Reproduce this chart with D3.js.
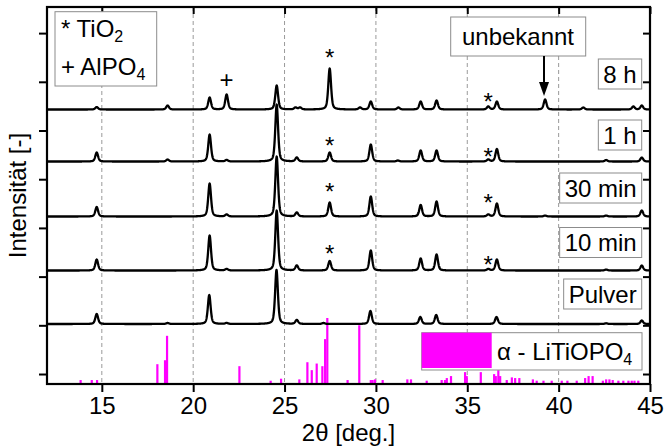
<!DOCTYPE html>
<html><head><meta charset="utf-8">
<script src="https://cdn.jsdelivr.net/npm/d3@7/dist/d3.min.js"></script>
<style>
body{margin:0;background:#fff}
text{font-family:"Liberation Sans",Arial,Helvetica,sans-serif;fill:#000}
</style>
</head><body>
<svg id="chart" width="667" height="448"></svg>
<script>
// ---------------- data ----------------
const xTicks = [15, 20, 25, 30, 35, 40, 45];
const gridX = [15, 20, 25, 30, 35, 40];
const yTicks = [0, 1000, 2000, 3000, 4000, 5000, 6000, 7000];

const seriesNames = ["Pulver", "10 min", "30 min", "1 h", "8 h"];
const seriesOffsets = [1027, 2125, 3234, 4363, 5431];

// [2θ, peak height]
const peaksPulver = [[14.72,205],[18.6,20],[20.88,595],[21.83,20],[24.56,1110],[25.67,82],[27.13,20],[29.70,267],[32.43,144],[33.30,185],[36.60,144],[42.6,15],[44.55,72]];
const peaks10min = [[14.72,226],[20.9,719],[21.83,31],[24.57,1232],[25.67,103],[27.47,195],[29.72,411],[32.45,246],[33.32,328],[36.15,31],[36.62,226],[42.6,20],[44.55,103]];
const peaks30min = [[14.72,195],[20.9,677],[21.83,41],[24.57,1232],[25.67,82],[27.47,287],[29.72,411],[32.45,236],[33.32,308],[36.15,41],[36.62,267],[39.26,20],[42.6,20],[44.55,123]];
const peaks1h = [[14.72,185],[18.6,41],[20.9,554],[21.83,31],[24.57,1170],[25.67,82],[27.47,185],[29.72,349],[31.2,20],[32.45,226],[33.32,226],[36.15,41],[36.62,257],[42.6,31],[44.55,82]];
const peaks8h = [[14.72,51],[18.6,82],[20.9,246],[21.83,308],[24.57,493],[25.6,41],[25.85,41],[27.47,842],[29.13,41],[29.72,164],[31.23,41],[32.45,164],[33.32,185],[36.15,62],[36.62,164],[39.26,205],[41.35,41],[44.09,62],[44.55,82]];
const seriesPeaks = [peaksPulver, peaks10min, peaks30min, peaks1h, peaks8h];

// phase markers: [symbol, 2θ, intensity at symbol centre]
const markerSymbols = ["+", "*", "*", "*", "*", "*", "*", "*", "*"];
const markerPos =     [21.83, 27.47, 36.15, 27.47, 36.15, 27.47, 36.15, 27.47, 36.15];
const markerY =       [6057, 6612, 5694, 4805, 4579, 3846, 3620, 2581, 2355];

// reference pattern α-LiTiOPO4: 2θ and relative intensity (%)
const refPos = [13.84,14.45,14.74,18.04,18.46,18.57,22.53,24.24,24.81,25.81,26.25,26.49,26.76,27.07,27.22,27.34,28.45,29.09,29.72,29.82,29.95,30.37,31.72,31.92,32.78,33.60,33.78,33.88,34.11,34.88,34.97,35.74,36.47,36.56,36.70,36.80,37.16,37.44,37.62,37.85,38.59,38.80,39.17,39.62,40.17,40.48,40.99,41.45,41.64,41.86,42.42,42.60,42.78,42.96,43.27,43.54,43.82,44.00,44.15,44.36];
const refInt = [6,6,6,30,36,73,27,5,8,7,33,21,31,27,68,100,6,89,6,6,7,6,7,7,5,6,6,9,12,18,12,18,15,12,21,12,6,10,9,9,7,5,5,5,5,5,5,9,12,12,5,7,7,6,5,5,5,5,5,5];

// ---------------- drawing ----------------
const svg = d3.select("#chart");
const L = 47, R = 650, T = 7, B = 384;
const FS = 24;

const x = d3.scaleLinear().domain([12, 45]).range([L, R]);
const y = d3.scaleLinear().domain([-205, 7536]).range([B, T]);
const yRef = d3.scaleLinear().domain([0, 100]).range([B, B - 66]);

// grid
svg.append("g").selectAll("line").data(gridX).join("line")
  .attr("x1", d => x(d)).attr("x2", d => x(d))
  .attr("y1", T).attr("y2", B)
  .attr("stroke", "#9a9a9a").attr("stroke-width", 1)
  .attr("stroke-dasharray", "4,3");

// reference bars
svg.append("g").selectAll("rect").data(refPos).join("rect")
  .attr("x", d => x(d) - 1.1).attr("width", 2.2)
  .attr("y", (d, i) => yRef(refInt[i]))
  .attr("height", (d, i) => B - yRef(refInt[i]))
  .attr("fill", "#ff00ff");

// curves
const fwhm = 0.18, eta = 0.45;
const gam = fwhm / 2;
function profile(peaks, t) {
  let s = 0;
  for (const [p, h] of peaks) {
    const u = (t - p) / gam;
    s += h * (eta / (1 + u * u) + (1 - eta) * Math.exp(-Math.LN2 * u * u));
  }
  return s;
}
const grid = d3.range(12.0, 45.0001, 0.01);
const line = d3.line().x(d => x(d[0])).y(d => y(d[1]));
svg.append("defs").append("clipPath").attr("id", "clip")
  .append("rect").attr("x", L).attr("y", T).attr("width", R - L).attr("height", B - T);
const cg = svg.append("g").attr("clip-path", "url(#clip)");
seriesPeaks.forEach((pk, i) => {
  const pts = grid.map(t => [t, seriesOffsets[i] + profile(pk, t)]);
  cg.append("path").attr("d", line(pts))
    .attr("fill", "none").attr("stroke", "#000").attr("stroke-width", 2.3)
    .attr("stroke-linejoin", "round");
});

// markers
svg.append("g").selectAll("text").data(markerSymbols).join("text")
  .attr("x", (d, i) => x(markerPos[i]))
  .attr("y", (d, i) => y(markerY[i]) + (d === "*" ? 0.57 * FS : 0.36 * FS))
  .attr("text-anchor", "middle").attr("font-size", FS).text(d => d);

// axes
const xAxis = d3.axisBottom(x).tickValues(xTicks).tickSize(8).tickPadding(5).tickFormat(d3.format("d"));
const gx = svg.append("g").attr("transform", `translate(0,${B})`).call(xAxis);
gx.select(".domain").remove();
gx.selectAll(".tick line").attr("stroke", "#000").attr("stroke-width", 2);
gx.selectAll(".tick text").attr("font-size", FS).attr("font-family", "Liberation Sans, Arial, sans-serif");

const xTop = d3.axisTop(x).tickValues(xTicks).tickSize(-7).tickFormat("");
const gxt = svg.append("g").attr("transform", `translate(0,${T})`).call(xTop);
gxt.select(".domain").remove();
gxt.selectAll(".tick line").attr("stroke", "#000").attr("stroke-width", 2);

const yAxis = d3.axisLeft(y).tickValues(yTicks).tickSize(8).tickFormat("");
const gy = svg.append("g").attr("transform", `translate(${L},0)`).call(yAxis);
gy.select(".domain").remove();
gy.selectAll(".tick line").attr("stroke", "#000").attr("stroke-width", 2);

const yRight = d3.axisRight(y).tickValues(yTicks).tickSize(-7).tickFormat("");
const gyr = svg.append("g").attr("transform", `translate(${R},0)`).call(yRight);
gyr.select(".domain").remove();
gyr.selectAll(".tick line").attr("stroke", "#000").attr("stroke-width", 2);

// frame
svg.append("rect").attr("x", L).attr("y", T).attr("width", R - L).attr("height", B - T)
  .attr("fill", "none").attr("stroke", "#000").attr("stroke-width", 2.2);

// axis titles
svg.append("text").attr("x", (L + R) / 2).attr("y", 441).attr("text-anchor", "middle")
  .attr("font-size", FS).text("2θ [deg.]");
svg.append("text").attr("transform", `translate(26,${(T + B) / 2}) rotate(-90)`)
  .attr("text-anchor", "middle").attr("font-size", FS).text("Intensität [-]");

// sample labels (boxes at right)
const labelCenters = [294, 242.5, 188, 135, 74];
const boxRight = 641.7;
seriesNames.forEach((name, i) => {
  const g = svg.append("g");
  const t = g.append("text").attr("x", boxRight - 5).attr("y", labelCenters[i] + 0.36 * FS)
    .attr("text-anchor", "end").attr("font-size", FS).text(name);
  const bb = t.node().getBBox();
  g.insert("rect", "text").attr("x", bb.x - 5).attr("y", labelCenters[i] - 15)
    .attr("width", bb.width + 10).attr("height", 30)
    .attr("fill", "#fff").attr("stroke", "#8c8c8c").attr("stroke-width", 1);
});

// "unbekannt" box + arrow
const ug = svg.append("g");
ug.append("rect").attr("x", 450.7).attr("y", 17).attr("width", 135).attr("height", 39)
  .attr("fill", "#fff").attr("stroke", "#8c8c8c").attr("stroke-width", 1);
ug.append("text").attr("x", 518).attr("y", 45).attr("text-anchor", "middle")
  .attr("font-size", FS).text("unbekannt");
const ax = x(39.2);
ug.append("line").attr("x1", ax).attr("x2", ax).attr("y1", 56).attr("y2", 84)
  .attr("stroke", "#000").attr("stroke-width", 2);
ug.append("path").attr("d", `M${ax - 5},${82} L${ax + 5},${82} L${ax},${96} Z`).attr("fill", "#000");

// phase legend (top left)
const lg = svg.append("g");
lg.append("rect").attr("x", 55).attr("y", 11.7).attr("width", 101.7).attr("height", 74.3)
  .attr("fill", "#fff").attr("stroke", "#8c8c8c").attr("stroke-width", 1);
const t1 = lg.append("text").attr("x", 61).attr("y", 37).attr("font-size", FS);
t1.append("tspan").text("* TiO");
t1.append("tspan").attr("font-size", 16).attr("dy", 5).text("2");
const t2 = lg.append("text").attr("x", 61).attr("y", 75).attr("font-size", FS);
t2.append("tspan").text("+ AlPO");
t2.append("tspan").attr("font-size", 16).attr("dy", 5).text("4");

// reference legend
const rg = svg.append("g");
rg.append("rect").attr("x", 421.7).attr("y", 332.7).attr("width", 220.3).attr("height", 37.3)
  .attr("fill", "#fff").attr("stroke", "#8c8c8c").attr("stroke-width", 1);
rg.append("rect").attr("x", 421.7).attr("y", 332.7).attr("width", 70).attr("height", 35.3)
  .attr("fill", "#ff00ff");
const t3 = rg.append("text").attr("x", 497).attr("y", 359.5).attr("font-size", FS);
t3.append("tspan").text("α - LiTiOPO");
t3.append("tspan").attr("font-size", 16).attr("dy", 5).text("4");
</script>
</body></html>
